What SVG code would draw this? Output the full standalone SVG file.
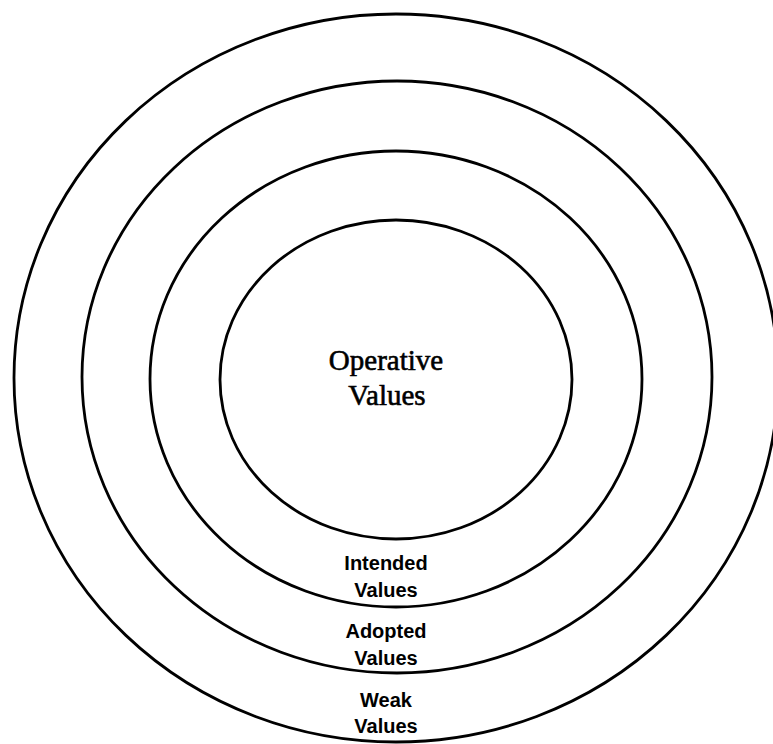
<svg xmlns="http://www.w3.org/2000/svg" width="773" height="744" viewBox="0 0 773 744">
<style>
.ring{fill:none;stroke:#000;stroke-width:2.8}
.lbl{font-family:"Liberation Sans",Arial,sans-serif;font-weight:bold;font-size:20px;fill:#000;text-anchor:middle}
.main{font-family:"Liberation Serif","Times New Roman",serif;font-size:29px;fill:#000;stroke:#000;stroke-width:0.6;text-anchor:middle}
</style>
<rect width="773" height="744" fill="#fff"/>
<g id="weak">
<ellipse class="ring" cx="396" cy="378" rx="382" ry="364"/>
<text class="lbl" x="386" y="707">Weak</text>
<text class="lbl" x="386" y="733">Values</text>
</g>
<g id="adopted">
<ellipse class="ring" cx="397" cy="377" rx="315" ry="296"/>
<text class="lbl" x="386" y="638">Adopted</text>
<text class="lbl" x="386" y="665">Values</text>
</g>
<g id="intended">
<ellipse class="ring" cx="396" cy="379" rx="246" ry="228"/>
<text class="lbl" x="386" y="570">Intended</text>
<text class="lbl" x="386" y="597">Values</text>
</g>
<g id="operative">
<ellipse class="ring" cx="396" cy="379.5" rx="176" ry="159.5"/>
<text class="main" x="386" y="370">Operative</text>
<text class="main" x="387" y="405">Values</text>
</g>
</svg>
